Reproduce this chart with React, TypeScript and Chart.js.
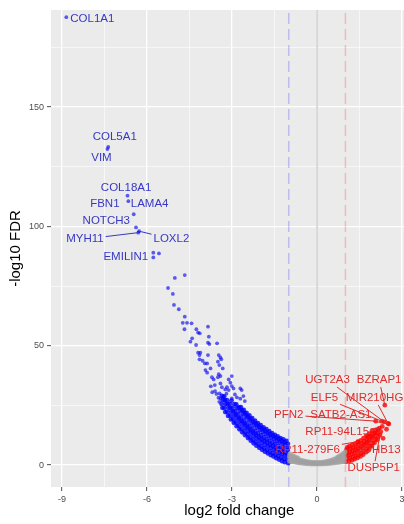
import React, { useEffect, useRef } from 'react';
import { Chart, registerables } from 'chart.js';
Chart.register(...registerables);

// ---- axis settings ----
const X_MIN = -9.39;
const X_MAX = 3.9;
const Y_MIN = -9.2;
const Y_MAX = 190.7;
const xTicks = [-9, -7.5, -6, -4.5, -3, -1.5, 0, 1.5, 3];
const xTickLabels = ['-9', '', '-6', '', '-3', '', '0', '', '3'];
const yTicks = [0, 25, 50, 75, 100, 125, 150, 175];
const yTickLabels = ['0', '', '50', '', '100', '', '150', ''];
const fcCutoffs = [-1, 1];

// ---- data: [log2 fold change, -log10 FDR] ----
const notSignificant: number[][] = [
  [-0.98, 1.6], [-0.97, 2.7], [-0.99, 3.8], [-0.96, 4.7],
  [-0.91, 1.4], [-0.9, 2.4], [-0.92, 3.4], [-0.89, 4.2],
  [-0.84, 1.3], [-0.83, 2.2], [-0.85, 3.1], [-0.82, 3.8],
  [-0.77, 1.2], [-0.76, 2.0], [-0.78, 2.8], [-0.75, 3.4],
  [-0.7, 1.0], [-0.69, 1.8], [-0.71, 2.5], [-0.68, 3.0],
  [-0.63, 0.9], [-0.62, 1.6], [-0.64, 2.3],
  [-0.56, 0.8], [-0.55, 1.5], [-0.57, 2.1],
  [-0.49, 0.7], [-0.48, 1.3], [-0.5, 1.9],
  [-0.42, 0.6], [-0.41, 1.2], [-0.43, 1.7],
  [-0.35, 0.5], [-0.34, 1.0], [-0.36, 1.5],
  [-0.28, 0.5], [-0.27, 0.9], [-0.29, 1.4],
  [-0.21, 0.4], [-0.2, 0.9], [-0.22, 1.3],
  [-0.14, 0.4], [-0.13, 0.8], [-0.15, 1.2],
  [-0.07, 0.4], [-0.06, 0.8], [-0.08, 1.2],
  [0.0, 0.4], [0.01, 0.8], [-0.01, 1.2],
  [0.07, 0.4], [0.08, 0.8], [0.06, 1.2],
  [0.14, 0.4], [0.15, 0.8], [0.13, 1.2],
  [0.21, 0.4], [0.22, 0.9], [0.2, 1.3],
  [0.28, 0.5], [0.29, 0.9], [0.27, 1.4],
  [0.35, 0.5], [0.36, 1.0], [0.34, 1.6],
  [0.42, 0.6], [0.43, 1.2], [0.41, 1.8],
  [0.49, 0.7], [0.5, 1.4], [0.48, 2.0],
  [0.56, 0.8], [0.57, 1.6], [0.55, 2.3],
  [0.63, 0.9], [0.64, 1.8], [0.62, 2.6],
  [0.7, 1.0], [0.71, 2.0], [0.69, 2.8], [0.72, 3.4],
  [0.77, 1.1], [0.78, 2.2], [0.76, 3.1], [0.79, 3.9],
  [0.84, 1.2], [0.85, 2.4], [0.83, 3.5], [0.86, 4.4],
  [0.91, 1.3], [0.92, 2.7], [0.9, 3.9], [0.93, 5.0],
  [0.97, 1.4], [0.98, 2.9], [0.96, 4.3], [0.99, 5.5],
];

const downTop: number[][] = [
  [-8.85, 187.7], [-7.37, 133.3], [-7.4, 132.4], [-6.69, 112.9], [-6.66, 110.6],
  [-6.47, 105.1], [-6.39, 99.6], [-6.31, 97.4], [-6.28, 98.0], [-5.78, 89.0],
  [-5.78, 87.0], [-5.58, 88.7], [-5.02, 78.4], [-4.67, 79.6], [-5.26, 74.2],
  [-5.09, 71.7], [-5.05, 67.1], [-4.88, 65.3], [-4.67, 62.2], [-4.74, 59.6],
  [-4.59, 59.6], [-4.43, 59.4], [-4.68, 56.9], [-3.85, 58.0], [-4.26, 56.9],
  [-4.2, 55.5], [-4.14, 55.2], [-3.82, 53.8], [-4.41, 53.1], [-4.47, 51.7],
  [-3.85, 51.3], [-3.8, 50.7], [-3.53, 51.0], [-4.27, 50.3], [-4.2, 47.1],
  [-4.12, 47.1], [-4.15, 46.1], [-3.85, 46.1], [-3.47, 46.1], [-3.41, 45.1],
  [-3.38, 44.3], [-4.15, 44.3], [-4.04, 43.7], [-3.96, 42.6], [-3.5, 43.3],
  [-3.45, 41.9], [-3.88, 42.6], [-3.94, 39.8], [-3.88, 38.7], [-3.76, 40.5],
  [-3.33, 40.5], [-3.47, 38.1], [-3.41, 37.3], [-3.5, 36.8], [-3.71, 36.8],
  [-3.65, 35.9], [-3.12, 35.9], [-3.01, 37.3], [-3.06, 34.5], [-3.61, 33.5],
  [-3.41, 34.2], [-3.36, 32.6], [-3.18, 32.6], [-3.12, 31.4], [-3.24, 31.7],
  [-3.01, 33.1], [-2.95, 32.1], [-2.71, 32.1], [-2.66, 31.4], [-3.41, 27.9],
  [-3.3, 28.6], [-3.01, 27.9], [-2.83, 28.4], [-2.71, 27.8], [-3.7, 30.5],
  [-3.55, 29.8], [-3.2, 29.9], [-2.9, 29.6], [-2.6, 28.9], [-2.55, 26.8],
  [-3.6, 31.0], [-3.75, 33.0], [-3.45, 26.5], [-3.48, 28.2], [-3.44, 30.0],
];

const downBand: number[][] = [
  [-1.02, 0.8], [-1.05, 2.1], [-1.03, 3.5], [-1.07, 4.8], [-1.04, 6.2], [-1.06, 7.5], [-1.03, 8.9], [-1.08, 10.1],
  [-1.14, 1.2], [-1.17, 2.6], [-1.13, 4.1], [-1.16, 5.5], [-1.18, 6.9], [-1.12, 8.3], [-1.15, 9.6], [-1.19, 10.8],
  [-1.24, 1.7], [-1.27, 3.2], [-1.23, 4.6], [-1.26, 6.0], [-1.28, 7.4], [-1.22, 8.8], [-1.25, 10.2], [-1.29, 11.3],
  [-1.34, 2.3], [-1.37, 3.8], [-1.33, 5.2], [-1.36, 6.7], [-1.38, 8.0], [-1.32, 9.5], [-1.35, 10.9], [-1.39, 12.0],
  [-1.44, 2.9], [-1.47, 4.4], [-1.43, 5.9], [-1.46, 7.3], [-1.48, 8.8], [-1.42, 10.1], [-1.45, 11.5], [-1.49, 12.6],
  [-1.54, 3.6], [-1.57, 5.0], [-1.53, 6.5], [-1.56, 8.0], [-1.58, 9.4], [-1.52, 10.8], [-1.55, 12.2], [-1.59, 13.4],
  [-1.64, 4.2], [-1.67, 5.7], [-1.63, 7.2], [-1.66, 8.6], [-1.68, 10.1], [-1.62, 11.5], [-1.65, 12.9], [-1.69, 14.2],
  [-1.74, 4.9], [-1.77, 6.4], [-1.73, 7.9], [-1.76, 9.4], [-1.78, 10.8], [-1.72, 12.2], [-1.75, 13.7], [-1.79, 15.0],
  [-1.84, 5.6], [-1.87, 7.1], [-1.83, 8.6], [-1.86, 10.1], [-1.88, 11.6], [-1.82, 13.0], [-1.85, 14.5], [-1.89, 15.8],
  [-1.94, 6.4], [-1.97, 7.9], [-1.93, 9.4], [-1.96, 10.9], [-1.98, 12.4], [-1.92, 13.8], [-1.95, 15.3], [-1.99, 16.7],
  [-2.04, 7.2], [-2.07, 8.8], [-2.03, 10.3], [-2.06, 11.8], [-2.08, 13.3], [-2.02, 14.7], [-2.05, 16.2], [-2.09, 17.6],
  [-2.14, 8.1], [-2.17, 9.7], [-2.13, 11.2], [-2.16, 12.7], [-2.18, 14.2], [-2.12, 15.7], [-2.15, 17.2], [-2.19, 18.6],
  [-2.24, 9.1], [-2.27, 10.6], [-2.23, 12.2], [-2.26, 13.7], [-2.28, 15.2], [-2.22, 16.7], [-2.25, 18.2], [-2.29, 19.7],
  [-2.34, 10.2], [-2.37, 11.7], [-2.33, 13.3], [-2.36, 14.8], [-2.38, 16.3], [-2.32, 17.8], [-2.35, 19.3], [-2.39, 20.8],
  [-2.44, 11.3], [-2.47, 12.9], [-2.43, 14.4], [-2.46, 16.0], [-2.48, 17.5], [-2.42, 19.0], [-2.45, 20.5], [-2.49, 21.9],
  [-2.54, 12.5], [-2.57, 14.1], [-2.53, 15.6], [-2.56, 17.2], [-2.58, 18.7], [-2.52, 20.2], [-2.55, 21.7], [-2.59, 23.1],
  [-2.64, 13.7], [-2.67, 15.3], [-2.63, 16.9], [-2.66, 18.4], [-2.68, 20.0], [-2.62, 21.5], [-2.65, 23.0], [-2.69, 24.3],
  [-2.74, 15.0], [-2.77, 16.6], [-2.73, 18.2], [-2.76, 19.7], [-2.78, 21.3], [-2.72, 22.8], [-2.75, 24.2],
  [-2.84, 16.3], [-2.87, 17.9], [-2.83, 19.5], [-2.86, 21.1], [-2.88, 22.6], [-2.82, 24.0], [-2.85, 25.4],
  [-2.94, 17.7], [-2.97, 19.3], [-2.93, 20.9], [-2.96, 22.5], [-2.98, 24.0], [-2.92, 25.5],
  [-3.04, 19.1], [-3.07, 20.8], [-3.03, 22.4], [-3.06, 24.0], [-3.08, 25.6], [-3.02, 27.0],
  [-3.14, 20.6], [-3.17, 22.3], [-3.13, 24.0], [-3.16, 25.6], [-3.18, 27.2],
  [-3.24, 22.2], [-3.27, 23.9], [-3.23, 25.6], [-3.26, 27.3], [-3.28, 28.8],
  [-3.34, 24.0], [-3.37, 25.6], [-3.33, 27.3], [-3.36, 29.0],
];

const upRegulated: number[][] = [
  [1.02, 1.3], [1.05, 2.6], [1.03, 3.9], [1.06, 5.2], [1.04, 6.5], [1.07, 7.4],
  [1.13, 1.6], [1.16, 2.9], [1.12, 4.2], [1.15, 5.5], [1.17, 6.8], [1.14, 7.9],
  [1.23, 2.0], [1.26, 3.3], [1.22, 4.6], [1.25, 5.9], [1.27, 7.2], [1.24, 8.5],
  [1.33, 2.5], [1.36, 3.8], [1.32, 5.1], [1.35, 6.4], [1.37, 7.7], [1.34, 9.0],
  [1.43, 3.0], [1.46, 4.3], [1.42, 5.7], [1.45, 7.0], [1.47, 8.3], [1.44, 9.6],
  [1.53, 3.6], [1.56, 4.9], [1.52, 6.3], [1.55, 7.7], [1.57, 9.0], [1.54, 10.3],
  [1.63, 4.4], [1.66, 5.8], [1.62, 7.2], [1.65, 8.6], [1.67, 10.0], [1.64, 11.3],
  [1.73, 5.4], [1.76, 6.8], [1.72, 8.2], [1.75, 9.6], [1.77, 11.0], [1.74, 12.3],
  [1.83, 6.5], [1.86, 7.9], [1.82, 9.3], [1.85, 10.7], [1.87, 12.0], [1.84, 13.2],
  [1.93, 7.8], [1.96, 9.2], [1.92, 10.6], [1.95, 12.0], [1.97, 13.3], [1.94, 14.4],
  [2.03, 9.3], [2.06, 10.7], [2.02, 12.1], [2.05, 13.4], [2.07, 14.7],
  [2.13, 10.6], [2.16, 12.0], [2.12, 13.4], [2.15, 14.9],
  [2.22, 12.6], [2.25, 14.0], [2.2, 15.5], [2.28, 18.4], [2.37, 18.1], [2.53, 17.2],
  [2.07, 18.4], [2.39, 25.1], [2.5, 17.5], [1.79, 11.9], [1.44, 9.8], [2.3, 16.2],
  [2.33, 11.2], [2.45, 15.0],
];

// ---- labelled genes ----
const labelGenes = ['COL1A1', 'COL5A1', 'VIM', 'COL18A1', 'FBN1', 'LAMA4', 'NOTCH3', 'MYH11', 'LOXL2', 'EMILIN1',
  'UGT2A3', 'BZRAP1', 'ELF5', 'MIR210HG', 'PFN2', 'SATB2-AS1', 'RP11-94L15', 'RP11-279F6', 'SDHB13', 'DUSP5P1'];
const labelFC = [-8.85, -7.37, -7.4, -6.69, -6.66, -6.47, -6.39, -6.31, -6.28, -5.78,
  2.37, 2.39, 2.28, 2.5, 2.07, 2.53, 2.2, 1.44, 1.79, 2.22];
const labelFDR = [187.7, 133.3, 132.4, 112.9, 110.6, 105.1, 99.6, 97.4, 98.0, 87.0,
  18.1, 25.1, 18.4, 17.5, 18.4, 17.2, 15.5, 9.8, 11.9, 12.6];
// repelled text placement (data units)
const labelTextFC = [-7.93, -7.14, -7.61, -6.74, -7.49, -5.91, -7.44, -8.19, -5.14, -6.75,
  0.37, 2.19, 0.26, 2.03, -1.0, 0.84, 0.71, -0.33, 2.16, 2.0];
const labelTextFDR = [186.9, 137.5, 128.7, 116.3, 109.4, 109.4, 102.3, 94.7, 94.7, 87.2,
  35.6, 35.6, 28.1, 28.1, 21.0, 21.0, 13.8, 6.3, 6.3, -1.3];
const labelSegment = [false, false, false, false, false, false, false, true, true, false,
  true, true, true, true, true, true, true, true, true, true];

const FONT = '"Liberation Sans", Arial, sans-serif';

const panelPlugin = {
  id: 'panel',
  beforeDraw(chart: any) {
    const { ctx, chartArea: a } = chart;
    ctx.save();
    ctx.fillStyle = '#EBEBEB';
    ctx.fillRect(a.left, a.top, a.right - a.left, a.bottom - a.top);
    ctx.restore();
  },
  beforeDatasetsDraw(chart: any) {
    const { ctx, chartArea: a, scales } = chart;
    const xs = scales.x;
    ctx.save();
    ctx.beginPath();
    ctx.rect(a.left, a.top, a.right - a.left, a.bottom - a.top);
    ctx.clip();
    const x0 = xs.getPixelForValue(0);
    ctx.strokeStyle = '#d8d8d8';
    ctx.lineWidth = 2;
    ctx.beginPath();
    ctx.moveTo(x0, a.top);
    ctx.lineTo(x0, a.bottom);
    ctx.stroke();
    fcCutoffs.forEach((v) => {
      const px = xs.getPixelForValue(v);
      ctx.strokeStyle = v < 0 ? 'rgba(0,0,255,0.2)' : 'rgba(255,0,0,0.2)';
      ctx.lineWidth = 1.6;
      ctx.setLineDash([11, 5]);
      ctx.beginPath();
      ctx.moveTo(px, a.top + 3);
      ctx.lineTo(px, a.bottom);
      ctx.stroke();
    });
    ctx.restore();
  },
  afterDatasetsDraw(chart: any) {
    const { ctx, scales } = chart;
    const xs = scales.x;
    const ys = scales.y;
    ctx.save();
    ctx.font = `11.5px ${FONT}`;
    ctx.textAlign = 'center';
    ctx.textBaseline = 'middle';
    labelGenes.forEach((g, i) => {
      const col = labelFC[i] < 0 ? '#3838c4' : '#e02a2a';
      const px = xs.getPixelForValue(labelFC[i]);
      const py = ys.getPixelForValue(labelFDR[i]);
      const tx = xs.getPixelForValue(labelTextFC[i]);
      const ty = ys.getPixelForValue(labelTextFDR[i]);
      const w = ctx.measureText(g).width;
      const hw = w / 2 + 2;
      const hh = 7;
      if (labelSegment[i]) {
        const dx = px - tx;
        const dy = py - ty;
        let t = 1;
        if (dx !== 0) t = Math.min(t, hw / Math.abs(dx));
        if (dy !== 0) t = Math.min(t, hh / Math.abs(dy));
        const sx = tx + dx * t;
        const sy = ty + dy * t;
        ctx.strokeStyle = col;
        ctx.lineWidth = 1;
        ctx.beginPath();
        ctx.moveTo(sx, sy);
        ctx.lineTo(px, py);
        ctx.stroke();
      }
      ctx.fillStyle = col;
      ctx.fillText(g, tx, ty);
    });
    ctx.restore();
  },
};

const toXY = (arr: number[][]) => arr.map(([x, y]) => ({ x, y }));

export default function App() {
  const ref = useRef<HTMLCanvasElement>(null);
  useEffect(() => {
    const canvas = ref.current;
    if (!canvas) return;
    const base = { pointBorderWidth: 0, pointHoverRadius: 0, showLine: false };
    const chart = new Chart(canvas, {
      type: 'scatter',
      data: {
        datasets: [
          { label: 'NS', data: toXY(notSignificant), backgroundColor: 'rgba(160,160,160,0.75)', pointRadius: 2.3, ...base },
          { label: 'Down', data: toXY(downBand), backgroundColor: 'rgba(0,0,255,0.8)', pointRadius: 2.4, ...base },
          { label: 'Down (top)', data: toXY(downTop), backgroundColor: 'rgba(0,0,240,0.62)', pointRadius: 1.9, ...base },
          { label: 'Up', data: toXY(upRegulated), backgroundColor: 'rgba(255,0,0,0.8)', pointRadius: 2.4, ...base },
        ],
      } as any,
      options: {
        responsive: false,
        animation: false,
        events: [],
        layout: { padding: { top: 10, right: 0, bottom: 0, left: 0 } },
        plugins: { legend: { display: false }, tooltip: { enabled: false } },
        scales: {
          x: {
            type: 'linear',
            min: X_MIN,
            max: X_MAX,
            afterBuildTicks: (s: any) => { s.ticks = xTicks.map((v) => ({ value: v })); },
            afterFit: (s: any) => { s.height = 37; },
            border: { display: false },
            grid: {
              color: '#ffffff',
              lineWidth: (c: any) => (c.tick && Math.abs(c.tick.value % 3) < 1e-9 ? 1.3 : 0.6),
              tickColor: (c: any) => (c.tick && Math.abs(c.tick.value % 3) < 1e-9 ? '#4d4d4d' : 'rgba(0,0,0,0)'),
              tickLength: 4,
              tickWidth: 1,
            },
            ticks: {
              autoSkip: false,
              maxRotation: 0,
              padding: 3,
              color: '#4d4d4d',
              font: { family: FONT, size: 9 },
              callback: (_v: any, i: number) => xTickLabels[i],
            },
            title: {
              display: true,
              text: 'log2 fold change',
              color: '#000000',
              font: { family: FONT, size: 15 },
              padding: { top: 0, bottom: 4 },
            },
          },
          y: {
            type: 'linear',
            min: Y_MIN,
            max: Y_MAX,
            afterBuildTicks: (s: any) => { s.ticks = yTicks.map((v) => ({ value: v })); },
            afterFit: (s: any) => { s.width = 51; },
            border: { display: false },
            grid: {
              color: '#ffffff',
              lineWidth: (c: any) => (c.tick && c.tick.value % 50 === 0 ? 1.3 : 0.6),
              tickColor: (c: any) => (c.tick && c.tick.value % 50 === 0 ? '#4d4d4d' : 'rgba(0,0,0,0)'),
              tickLength: 4,
              tickWidth: 1,
            },
            ticks: {
              autoSkip: false,
              padding: 3,
              color: '#4d4d4d',
              font: { family: FONT, size: 9 },
              callback: (_v: any, i: number) => yTickLabels[i],
            },
            title: {
              display: true,
              text: '-log10 FDR',
              color: '#000000',
              font: { family: FONT, size: 15 },
              padding: { top: 7, bottom: 0 },
            },
          },
        },
      } as any,
      plugins: [panelPlugin],
    });
    return () => chart.destroy();
  }, []);
  return (
    <div style={{ position: 'absolute', left: 0, top: 0, width: 404, height: 524, overflow: 'hidden', background: '#ffffff' }}>
      <canvas ref={ref} width={430} height={524} style={{ display: 'block', width: 430, height: 524 }} />
    </div>
  );
}
